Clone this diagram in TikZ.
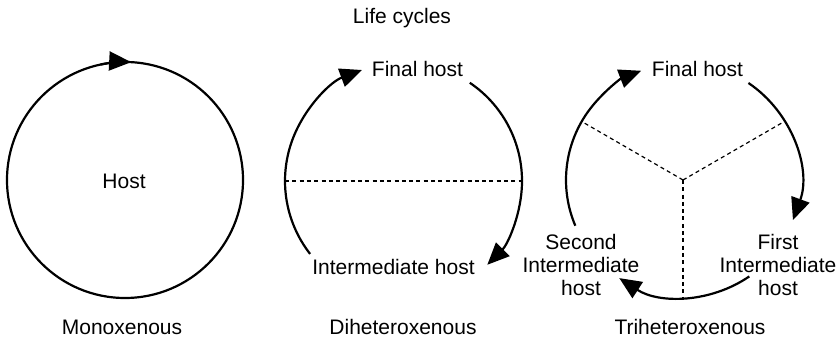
\documentclass[tikz,border=0pt]{standalone}
\usepackage{fontspec}
\setmainfont{Liberation Sans}
\usetikzlibrary{arrows.meta}
\begin{document}
\begin{tikzpicture}[x=0.5pt,y=0.5pt,
  font=\fontsize{10.5}{11.5}\selectfont,
  ring/.style={line width=1.1pt},
  cyc/.style={line width=1.1pt, -{Triangle[length=11pt,width=9.5pt]}},
  sep/.style={line width=0.6pt, dash pattern=on 2pt off 1.65pt},
  lbl/.style={anchor=base, inner sep=0pt},
  multi/.style={align=center, inner sep=0pt}]
\useasboundingbox (0,0) rectangle (838,341);

\coordinate (c1) at (125,161);
\coordinate (c2) at (403.5,160);
\coordinate (c3) at (683,161);

% labels
\node[lbl] (title) at (402,317) {Life cycles};
\node[lbl] (host) at (124,152) {Host};
\node[lbl] (final2) at (417.5,264) {Final host};
\node[lbl] (inter2) at (393.5,66) {Intermediate host};
\node[lbl] (final3) at (697.5,264) {Final host};
\node[multi] (second3) at (581,76) {Second\\Intermediate\\host};
\node[multi] (first3) at (778,76) {First\\Intermediate\\host};
\node[lbl] (mono) at (122,6) {Monoxenous};
\node[lbl] (dihet) at (403,6) {Diheteroxenous};
\node[lbl] (trihet) at (690,6) {Triheteroxenous};

% monoxenous
\draw[ring] (c1) circle[radius=118];
\draw[cyc] ([shift={(102:118)}]c1) arc[start angle=102, end angle=87, radius=118];

% diheteroxenous
\draw[cyc] ([shift={(218:118.5)}]c2) arc[start angle=218, end angle=110.5, radius=118.5];
\draw[cyc] ([shift={(56:118.5)}]c2) arc[start angle=56, end angle=-45, radius=118.5];
\draw[sep] ([shift={(180:118.5)}]c2) -- ([shift={(0:118.5)}]c2);

% triheteroxenous
\draw[cyc] ([shift={(203:117)}]c3) arc[start angle=203, end angle=111, radius=117];
\draw[cyc] ([shift={(56:117)}]c3) arc[start angle=56, end angle=-20, radius=117];
\draw[cyc] ([shift={(-55.5:117)}]c3) arc[start angle=-55.5, end angle=-123, radius=117];
\draw[sep] (c3) -- ([shift={(150:117)}]c3);
\draw[sep] (c3) -- ([shift={(30:117)}]c3);
\draw[sep] (c3) -- ([shift={(270:117)}]c3);
\end{tikzpicture}
\end{document}
